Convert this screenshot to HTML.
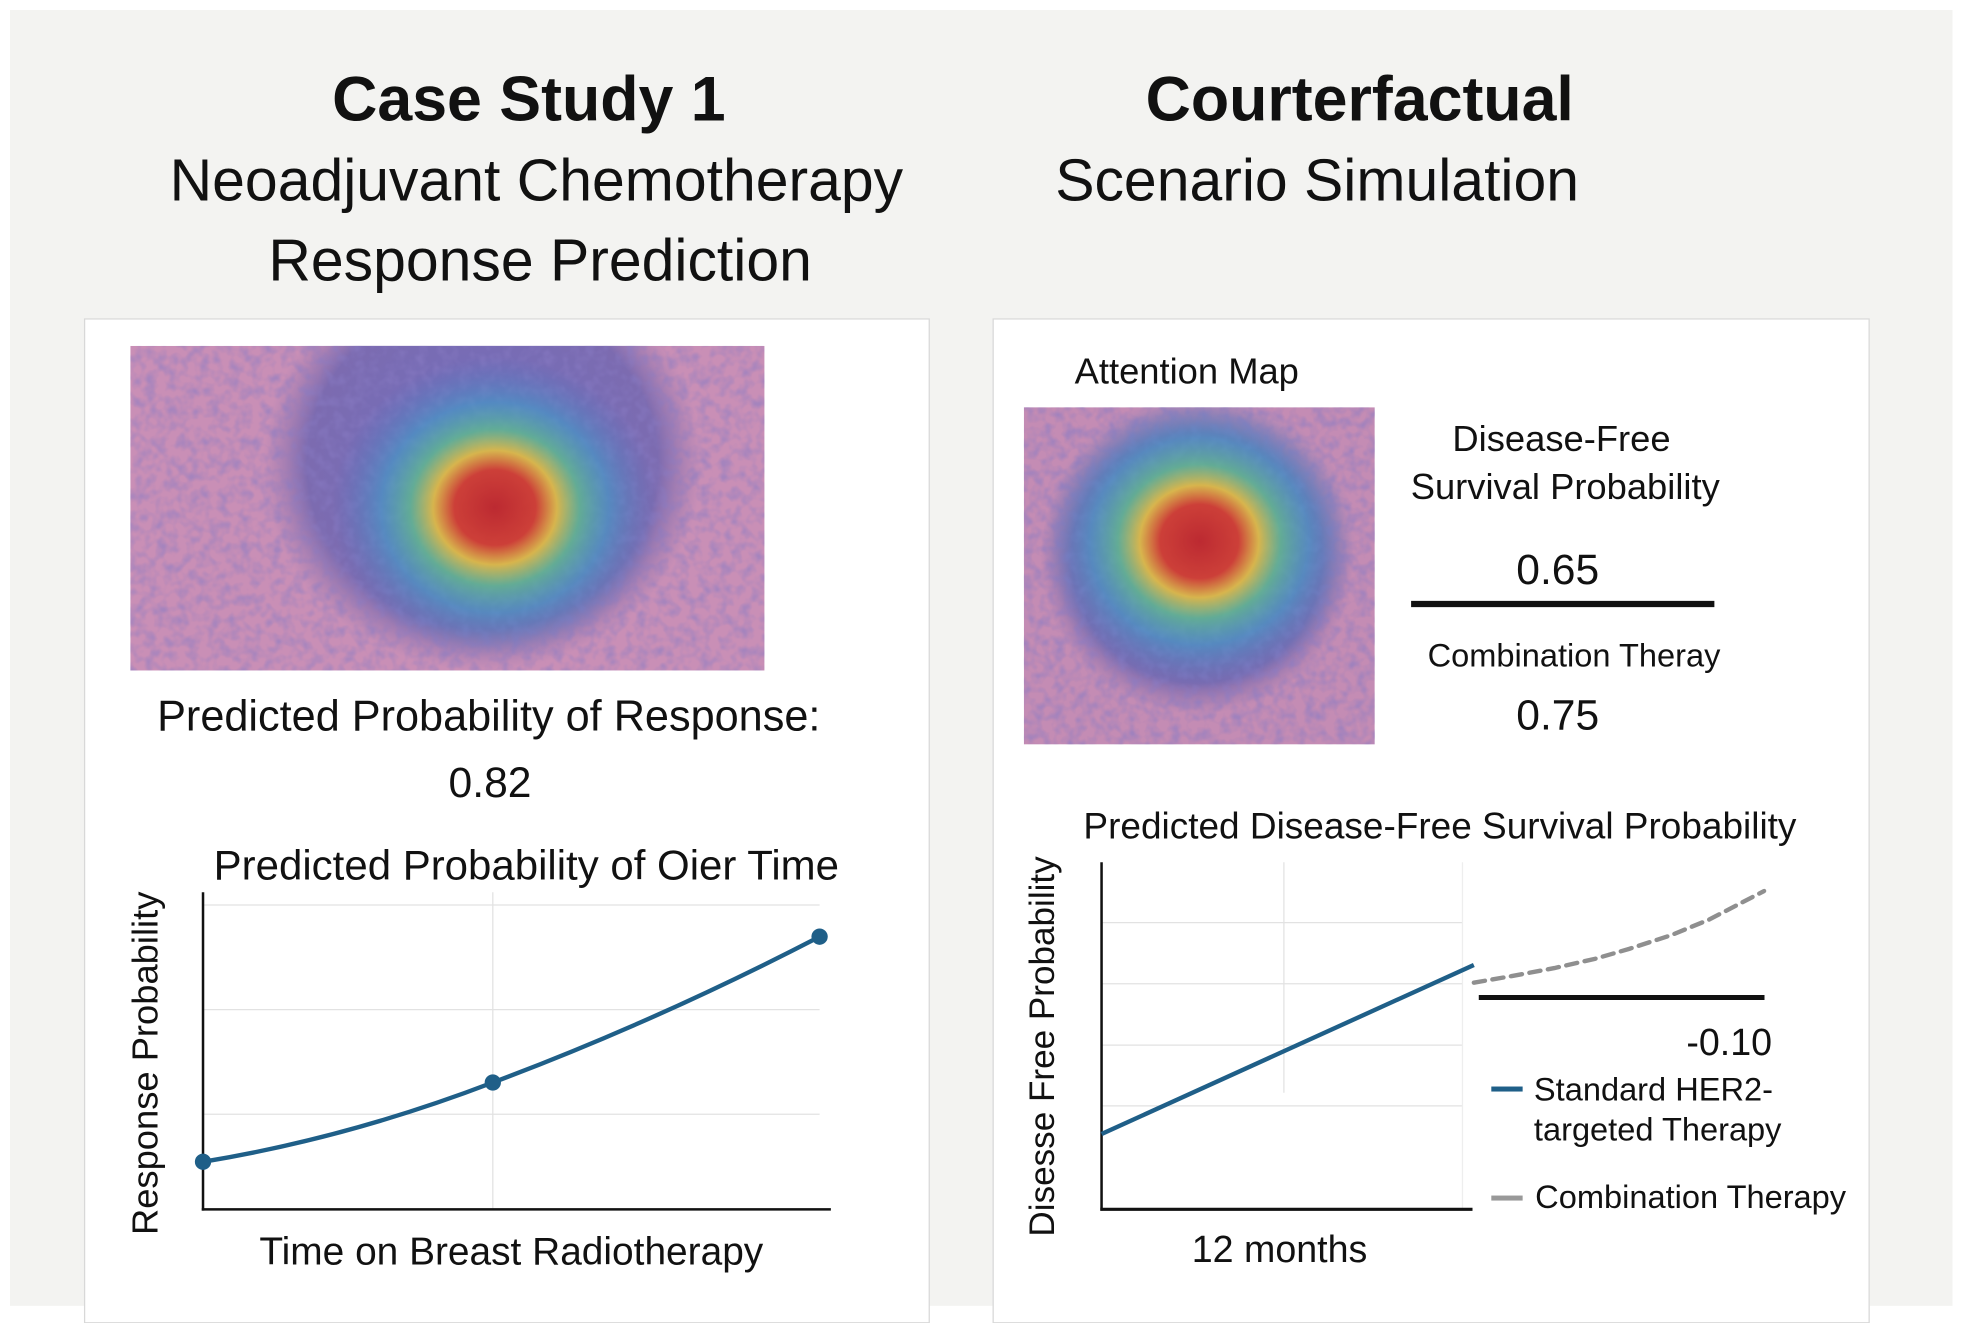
<!DOCTYPE html>
<html><head><meta charset="utf-8">
<style>
html,body{margin:0;padding:0;width:1965px;height:1316px;overflow:hidden;background:#fff;}
#wrap{position:absolute;left:0;top:0;width:1568px;height:1050px;transform:scale(1.2532);transform-origin:0 0;font-family:"Liberation Sans",sans-serif;color:#111;}
.t{position:absolute;white-space:nowrap;transform:translateX(-50%);line-height:1;}
.panel{position:absolute;background:#fff;border:1px solid #d8d8d8;}
</style></head><body>
<div id="wrap">
<div style="position:absolute;left:8px;top:8px;width:1550px;height:1034px;background:#f3f3f1;"></div>
<div class="t" style="left:422px;top:54px;font-size:50px;font-weight:bold;">Case Study 1</div>
<div class="t" style="left:428px;top:120px;font-size:47px;">Neoadjuvant Chemotherapy</div>
<div class="t" style="left:431px;top:184px;font-size:47px;">Response Prediction</div>
<div class="t" style="left:1085px;top:54px;font-size:50px;font-weight:bold;">Courterfactual</div>
<div class="t" style="left:1051px;top:120px;font-size:47px;">Scenario Simulation</div>

<div class="panel" style="left:67px;top:254px;width:673px;height:800px;"></div>
<div class="panel" style="left:792px;top:254px;width:698px;height:800px;"></div>

<svg width="1568" height="1050" style="position:absolute;left:0;top:0">
<defs>
<filter id="tex" x="0" y="0" width="100%" height="100%">
<feTurbulence type="fractalNoise" baseFrequency="0.12" numOctaves="2" seed="3"/>
<feColorMatrix values="0 0 0 0 0.25  0 0 0 0 0.2  0 0 0 0 0.55  0 0 0 -2.2 1.35"/>
</filter>
<radialGradient id="heat1" cx="0.5" cy="0.5" r="0.5">
<stop offset="0" stop-color="#c0262a" stop-opacity="0.95"/>
<stop offset="0.25" stop-color="#d63a2a" stop-opacity="0.9"/>
<stop offset="0.38" stop-color="#e8c13a" stop-opacity="0.85"/>
<stop offset="0.52" stop-color="#5cc08a" stop-opacity="0.75"/>
<stop offset="0.7" stop-color="#3aa0c8" stop-opacity="0.55"/>
<stop offset="1" stop-color="#4a6fc0" stop-opacity="0"/>
</radialGradient>
<radialGradient id="blob" cx="0.5" cy="0.5" r="0.5">
<stop offset="0" stop-color="#6e6fbf"/>
<stop offset="0.8" stop-color="#7c6bb0"/>
<stop offset="1" stop-color="#8c73b0" stop-opacity="0"/>
</radialGradient>
<clipPath id="c1"><rect x="104" y="276" width="506" height="259"/></clipPath>
<clipPath id="c2"><rect x="817" y="325" width="280" height="269"/></clipPath>
</defs>
<g clip-path="url(#c1)">
<rect x="104" y="276" width="506" height="259" fill="#c98fb6"/>
<ellipse cx="385" cy="370" rx="175" ry="165" fill="url(#blob)"/>
<rect x="104" y="276" width="506" height="259" filter="url(#tex)" opacity="0.55"/>
<ellipse cx="395" cy="405" rx="130" ry="120" fill="url(#heat1)"/>
</g>
<g clip-path="url(#c2)">
<rect x="817" y="325" width="280" height="269" fill="#c48cb4"/>
<ellipse cx="955" cy="445" rx="125" ry="125" fill="url(#blob)"/>
<rect x="817" y="325" width="280" height="269" filter="url(#tex)" opacity="0.6"/>
<ellipse cx="957" cy="432" rx="125" ry="118" fill="url(#heat1)"/>
</g>
<line x1="1126" y1="482" x2="1368" y2="482" stroke="#111" stroke-width="5"/>
<g id="leftChart"></g>
<g id="rightChart"></g>
</svg>

<div class="t" style="left:390px;top:555px;font-size:34.5px;">Predicted Probability of Response:</div>
<div class="t" style="left:391px;top:608px;font-size:34px;">0.82</div>
<div class="t" style="left:420px;top:675px;font-size:33.5px;">Predicted Probability of Oier Time</div>
<div class="t" style="left:117px;top:834px;font-size:29px;transform:translate(-50%,0) rotate(-90deg);">Response Probability</div>
<div class="t" style="left:408px;top:983px;font-size:31px;">Time on Breast Radiotherapy</div>

<div class="t" style="left:947px;top:283px;font-size:29px;">Attention Map</div>
<div class="t" style="left:1246px;top:337px;font-size:29px;">Disease-Free</div>
<div class="t" style="left:1249px;top:375px;font-size:29px;">Survival Probability</div>
<div class="t" style="left:1243px;top:438px;font-size:34px;">0.65</div>
<div class="t" style="left:1256px;top:510px;font-size:26px;">Combination Theray</div>
<div class="t" style="left:1243px;top:554px;font-size:34px;">0.75</div>
<div class="t" style="left:1149px;top:645px;font-size:29.5px;">Predicted Disease-Free Survival Probability</div>
<div class="t" style="left:832px;top:821px;font-size:28px;transform:translate(-50%,0) rotate(-90deg);">Disesse Free Probability</div>
<div class="t" style="left:1021px;top:983px;font-size:30px;">12 months</div>
<div style="position:absolute;right:154px;top:818px;font-size:30px;line-height:1;">-0.10</div>
<div style="position:absolute;left:1190px;top:867px;width:25px;height:4px;background:#1f5f88;"></div>
<div style="position:absolute;left:1224px;top:853px;font-size:26px;line-height:32px;white-space:nowrap;">Standard HER2-<br>targeted Therapy</div>
<div style="position:absolute;left:1190px;top:954px;width:25px;height:4px;background:#999;"></div>
<div style="position:absolute;left:1225px;top:942px;font-size:26px;white-space:nowrap;line-height:1;">Combination Therapy</div>
</div>
<script>
// Left chart data
const leftTimes = [0, 4.7, 10];
const leftProb = [0.15, 0.40, 0.86];
const leftGrid = [0.3, 0.63, 0.96];
// Right chart data
const stdMonths = [0, 24.5];
const stdProb = [0.217, 0.704];
const comboMonths = [24.5, 27, 29.8, 32.5, 34.7, 37.5, 40, 43.6];
const comboProb = [0.653, 0.672, 0.695, 0.722, 0.75, 0.79, 0.835, 0.917];
const rightGrid = [0.298, 0.473, 0.65, 0.826];

const NS = 'http://www.w3.org/2000/svg';
function mk(parent, tag, attrs){const e=document.createElementNS(NS,tag);for(const k in attrs)e.setAttribute(k,attrs[k]);parent.appendChild(e);return e;}

// Left
const L = document.getElementById('leftChart');
const lx = t => 162 + t * 49.2;
const ly = v => 965 - v * 253;
leftGrid.forEach(g => {
  const e = mk(L,'line',{x1:162,x2:654,y1:ly(g),y2:ly(g),stroke:'#e2e2e2','stroke-width':1});
  
  
});
const lv = mk(L,'line',{x1:lx(leftTimes[1]),x2:lx(leftTimes[1]),y1:ly(1.0),y2:965,stroke:'#e2e2e2','stroke-width':1});


const la1 = mk(L,'line',{x1:162,x2:162,y1:712,y2:966,stroke:'#111','stroke-width':2});


const la2 = mk(L,'line',{x1:161,x2:663,y1:965,y2:965,stroke:'#111','stroke-width':2});


const p = leftTimes.map((t,i)=>[lx(t),ly(leftProb[i])]);
let d = `M${p[0][0]},${p[0][1]}`;
const c1x=(p[0][0]+p[1][0])/2, c1y=p[0][1]-(p[0][1]-p[1][1])*0.3;
d += ` Q${c1x},${c1y} ${p[1][0]},${p[1][1]}`;
const c2x=(p[1][0]+p[2][0])/2, c2y=p[1][1]-(p[1][1]-p[2][1])*0.42;
d += ` Q${c2x},${c2y} ${p[2][0]},${p[2][1]}`;
const lp = mk(L,'path',{d:d,fill:'none',stroke:'#1f5f88','stroke-width':3.5});


p.forEach(pt => {
  const c = mk(L,'circle',{cx:pt[0],cy:pt[1],r:6.5,fill:'#1f5f88'});
  
  
});

// Right
const R = document.getElementById('rightChart');
const rx = m => 879 + m * 12.125;
const ry = v => 965 - v * 277;
rightGrid.forEach(g => {
  const e = mk(R,'line',{x1:879,x2:1167,y1:ry(g),y2:ry(g),stroke:'#e2e2e2','stroke-width':1});
  
  
});
const rv = mk(R,'line',{x1:rx(12),x2:rx(12),y1:688,y2:872,stroke:'#e2e2e2','stroke-width':1});


const rvr = mk(R,'line',{x1:1167,x2:1167,y1:688,y2:965,stroke:'#eeeeee','stroke-width':1});


const ra1 = mk(R,'line',{x1:879,x2:879,y1:688,y2:966,stroke:'#111','stroke-width':2});


const ra2 = mk(R,'line',{x1:878,x2:1175,y1:965,y2:965,stroke:'#111','stroke-width':2.5});


const sp = mk(R,'polyline',{points:stdMonths.map((m,i)=>rx(m)+','+ry(stdProb[i])).join(' '),fill:'none',stroke:'#1f5f88','stroke-width':3.5});


const cp = mk(R,'polyline',{points:comboMonths.map((m,i)=>rx(m)+','+ry(comboProb[i])).join(' '),fill:'none',stroke:'#8f8f8f','stroke-width':3.5,'stroke-dasharray':'9,6','stroke-linejoin':'round','stroke-linecap':'round'});


const bl = mk(R,'line',{x1:1180,x2:1408,y1:796,y2:796,stroke:'#111','stroke-width':4});


</script>
</body></html>
